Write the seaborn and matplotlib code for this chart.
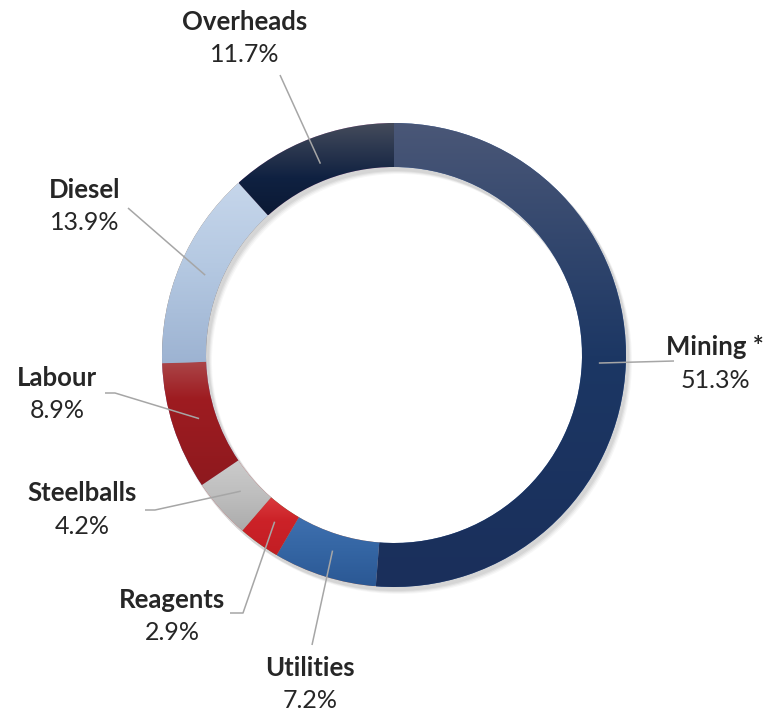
import numpy as np
import matplotlib
matplotlib.use("Agg")
import matplotlib.pyplot as plt
import seaborn as sns
from matplotlib.colors import to_rgb
from matplotlib.patches import Wedge

sns.set_theme(style="white")
plt.rcParams['font.family'] = ['Lato', 'DejaVu Sans']

labels = ["Mining *", "Utilities", "Reagents", "Steelballs", "Labour", "Diesel", "Overheads"]
values = [51.3, 7.2, 2.9, 4.2, 8.9, 13.9, 11.7]
pct_labels = ["51.3%", "7.2%", "2.9%", "4.2%", "8.9%", "13.9%", "11.7%"]
top_colors = ["#4a5777", "#3f70af", "#da3b3f", "#cbcbcb", "#ab4649", "#c6d6eb", "#464c5c"]
mid_colors = ["#1c3764", "#3465a3", "#cc2228", "#bebebe", "#9e1c21", "#b5c9e2", "#0f2141"]
bot_colors = ["#1a2f5b", "#2b5894", "#c21e24", "#ababab", "#8e191e", "#9db3d2", "#0b1934"]
mid_stops = [0.5, 0.5, 0.4, 0.5, 0.3, 0.45, 0.6]

W, H = 782, 713
fig = plt.figure(figsize=(W / 100, H / 100), dpi=100)
ax = fig.add_axes([0, 0, 1, 1])
ax.set_xlim(0, W)
ax.set_ylim(0, H)
ax.set_aspect('equal')
ax.axis('off')

cx, cy = 394, H - 355
R, ring = 232, 44

# soft shadow
for i, a in enumerate([0.05, 0.05, 0.04, 0.03]):
    sh = Wedge((cx + 2 + i, cy - 3 - i), R + 1, 0, 360, width=ring + 2,
               facecolor='black', edgecolor='none', alpha=a, zorder=0)
    ax.add_patch(sh)

wedges, _ = ax.pie(values, radius=R, center=(cx, cy), startangle=90, counterclock=False,
                   wedgeprops=dict(width=ring, edgecolor='none', linewidth=0),
                   normalize=True, frame=True)
ax.set_xlim(0, W)
ax.set_ylim(0, H)
ax.axis('off')

for w, tc, mc, bc, ms in zip(wedges, top_colors, mid_colors, bot_colors, mid_stops):
    bb = w.get_path().get_extents(w.get_patch_transform())
    x0, y0, x1, y1 = bb.x0, bb.y0, bb.x1, bb.y1
    t = np.linspace(0, 1, 256)
    c1, c2, c3 = (np.array(to_rgb(c)) for c in (tc, mc, bc))
    img = np.empty((256, 2, 3))
    for k, tv in enumerate(t):
        if tv <= ms:
            f = tv / ms
            col = c1 * (1 - f) + c2 * f
        else:
            f = (tv - ms) / (1 - ms)
            col = c2 * (1 - f) + c3 * f
        img[k, :, :] = col
    im = ax.imshow(img, extent=(x0, x1, y0, y1), origin='upper', aspect='auto',
                   zorder=w.get_zorder() + 0.1, interpolation='bilinear')
    im.set_clip_path(w)

ax.set_xlim(0, W)
ax.set_ylim(0, H)

# label layout (pixel positions, top-down y)
label_pos = [(715, 347), (310, 668), (172, 600), (82, 493), (57, 378), (85, 190), (245, 22)]
line_ends = [[(674, 361)], [(312, 645)], [(230, 613), (243, 613)], [(145, 510), (155, 510)],
             [(105, 393), (115, 393)], [(128, 208)], [(280, 75)]]

cum = np.cumsum([0] + values[:-1])
total = sum(values)
for i, lab in enumerate(labels):
    mid = (cum[i] + values[i] / 2) / total * 360
    ang = np.deg2rad(90 - mid)
    px = cx + 205 * np.cos(ang)
    py = cy + 205 * np.sin(ang)
    pts = [(x, H - y) for x, y in line_ends[i]] + [(px, py)]
    xs, ys = zip(*pts)
    ax.plot(xs, ys, color='#a6a6a6', lw=1.1, zorder=5, solid_capstyle='butt')
    lx, ly = label_pos[i]
    ax.text(lx, H - ly, lab, ha='center', va='center', fontsize=18.5, fontweight='bold',
            color='#262626', zorder=6)
    ax.text(lx, H - ly - 33, pct_labels[i], ha='center', va='center', fontsize=18,
            color='#262626', zorder=6)

fig.savefig("out.png", dpi=100, facecolor='white')
